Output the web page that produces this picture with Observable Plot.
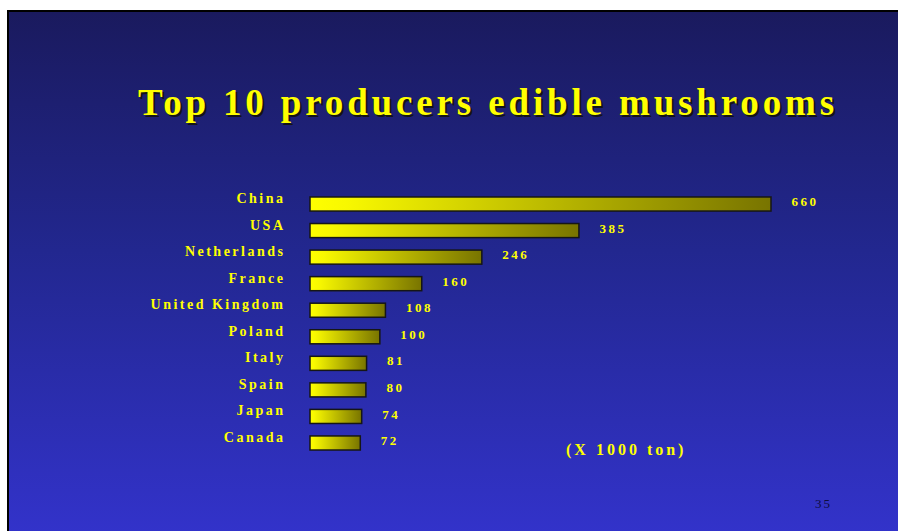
<!DOCTYPE html>
<html>
<head>
<meta charset="utf-8">
<script src="https://cdn.jsdelivr.net/npm/d3@7"></script>
<script src="https://cdn.jsdelivr.net/npm/@observablehq/plot@0.6"></script>
<style>
  html, body { margin: 0; padding: 0; }
  body { width: 898px; height: 531px; overflow: hidden; background: #ffffff; position: relative; font-family: "Liberation Serif", "Times New Roman", serif; }
  #slide { position: absolute; left: 7px; top: 10px; width: 900px; height: 530px; border-left: 2px solid #000; border-top: 2px solid #000; background: linear-gradient(to bottom, #1a1a5e 0%, #22278f 45%, #3333cc 100%); }
  #title { position: absolute; left: 138px; top: 84px; font-size: 37px; line-height: 37px; font-weight: bold; letter-spacing: 3.85px; color: #ffff00; white-space: nowrap; text-shadow: 2px 2px 0 #141414; }
  #chart { position: absolute; left: 0; top: 175px; }
  #unit { position: absolute; left: 566px; top: 442px; font-size: 16px; line-height: 16px; font-weight: bold; letter-spacing: 3px; color: #ffff00; white-space: nowrap; }
  #page { position: absolute; left: 815px; top: 497px; font-size: 13px; line-height: 13px; letter-spacing: 2px; color: #0c0c40; }
</style>
</head>
<body>
<div id="slide"></div>
<div id="title">Top 10 producers edible mushrooms</div>
<div id="chart"></div>
<div id="unit">(X 1000 ton)</div>
<div id="page">35</div>
<script>
const categories = ["China", "USA", "Netherlands", "France", "United Kingdom", "Poland", "Italy", "Spain", "Japan", "Canada"];
const values = [660, 385, 246, 160, 108, 100, 81, 80, 74, 72];

const data = categories.map((c, i) => ({country: c, value: values[i]}));

const chart = Plot.plot({
  width: 898,
  height: 300,
  marginLeft: 310,
  marginRight: 127,
  marginTop: 9.5,
  marginBottom: 12.5,
  x: {domain: [0, 660], axis: null},
  y: {domain: categories, padding: 0.47, round: false, label: null},
  style: {
    background: "transparent",
    color: "#ffff00",
    fontFamily: "'Liberation Serif', 'Times New Roman', serif",
    fontSize: "14px",
    fontWeight: "bold",
    letterSpacing: "2.5px",
    overflow: "visible"
  },
  marks: [
    Plot.axisY({tickSize: 0, tickPadding: 25, dy: -6, label: null, fontSize: 14}),
    Plot.barX(data, {x: "value", y: "country", fill: "url(#barGrad)", stroke: "#161616", strokeWidth: 1.5}),
    Plot.text(data, {x: "value", y: "country", text: d => String(d.value), dx: 20, dy: -2.5, textAnchor: "start", fontSize: 13})
  ]
});

const svg = d3.select(chart);
const grad = svg.insert("defs", ":first-child")
  .append("linearGradient")
  .attr("id", "barGrad")
  .attr("x1", 0).attr("x2", 1).attr("y1", 0).attr("y2", 0);
grad.append("stop").attr("offset", "0%").attr("stop-color", "#ffff00");
grad.append("stop").attr("offset", "8%").attr("stop-color", "#f8f800");
grad.append("stop").attr("offset", "100%").attr("stop-color", "#787400");

document.getElementById("chart").appendChild(chart);
</script>
</body>
</html>
